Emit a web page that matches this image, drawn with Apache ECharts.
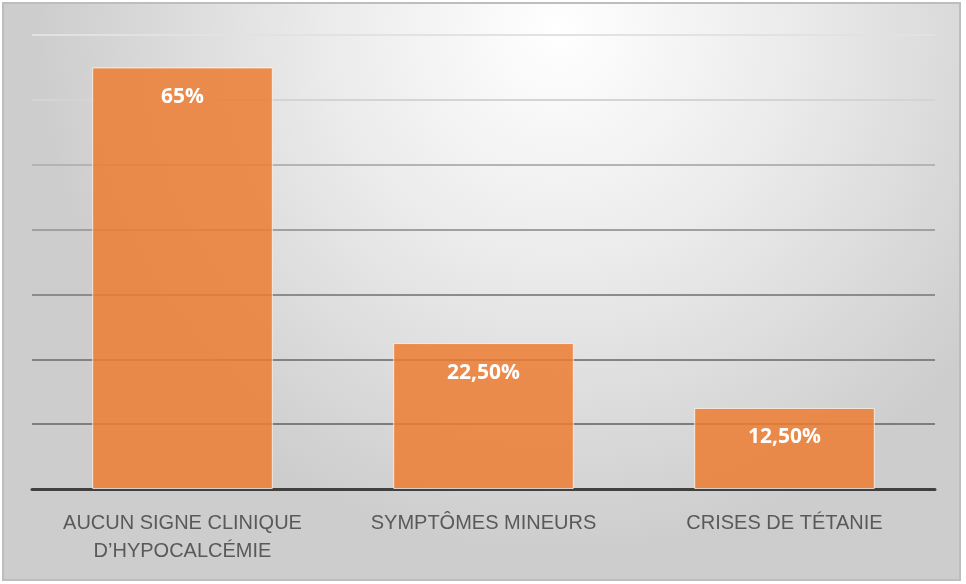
<!DOCTYPE html>
<html>
<head>
<meta charset="utf-8">
<script src="https://cdn.jsdelivr.net/npm/echarts@6/dist/echarts.min.js"></script>
<style>
html, body { margin: 0; padding: 0; background: #fff; }
#chart { width: 966px; height: 584px; }
</style>
</head>
<body>
<div id="chart"></div>
<script>
// categories and values
var categories = ['AUCUN SIGNE CLINIQUE\nD\u2019HYPOCALC\u00c9MIE', 'SYMPT\u00d4MES MINEURS', 'CRISES DE T\u00c9TANIE'];
var values = [65, 22.5, 12.5];
var valueLabels = ['65%', '22,50%', '12,50%'];

var dom = document.getElementById('chart');
var myChart = echarts.init(dom, null, { renderer: 'canvas' });

var option = {
    animation: false,
    graphic: [{
        type: 'rect',
        z: -10,
        shape: { x: 3, y: 3, width: 957, height: 577 },
        style: {
            fill: {
                type: 'radial', x: 0.58, y: 0.05, r: 0.9,
                colorStops: [
                    { offset: 0, color: '#ffffff' },
                    { offset: 0.45, color: '#ebebeb' },
                    { offset: 1, color: '#cdcdcd' }
                ]
            },
            stroke: '#bdbdbd',
            lineWidth: 2
        }
    }],
    grid: { left: 32, right: 31, top: 35, bottom: 95 },
    xAxis: {
        type: 'category',
        data: categories,
        axisLine: { lineStyle: { color: '#404040', width: 3 } },
        axisTick: { show: false },
        axisLabel: {
            interval: 0,
            hideOverlap: false,
            color: '#595959',
            fontFamily: 'Liberation Sans Narrow, Liberation Sans',
            fontSize: 20,
            lineHeight: 28,
            margin: 20
        }
    },
    yAxis: {
        type: 'value',
        min: 0,
        max: 70,
        interval: 10,
        axisLabel: { show: false },
        axisLine: { show: false },
        splitLine: {
            lineStyle: {
                width: 2,
                color: ['#404040', '#7d7d7d', '#838383', '#8c8c8c', '#a0a0a0', '#b4b4b4', '#d4d4d4', '#e2e2e2']
            }
        }
    },
    series: [{
        type: 'bar',
        data: values,
        barWidth: '60%',
        itemStyle: {
            color: 'rgba(237,125,49,0.85)',
            borderColor: 'rgba(255,255,255,0.7)',
            borderWidth: 1
        },
        label: {
            show: true,
            position: 'insideTop',
            distance: 19,
            color: '#ffffff',
            fontWeight: 'bold',
            fontSize: 21,
            fontFamily: 'Open Sans',
            formatter: function (p) { return valueLabels[p.dataIndex]; }
        }
    }]
};

if (option && typeof option === 'object') {
    myChart.setOption(option);
}
</script>
</body>
</html>
